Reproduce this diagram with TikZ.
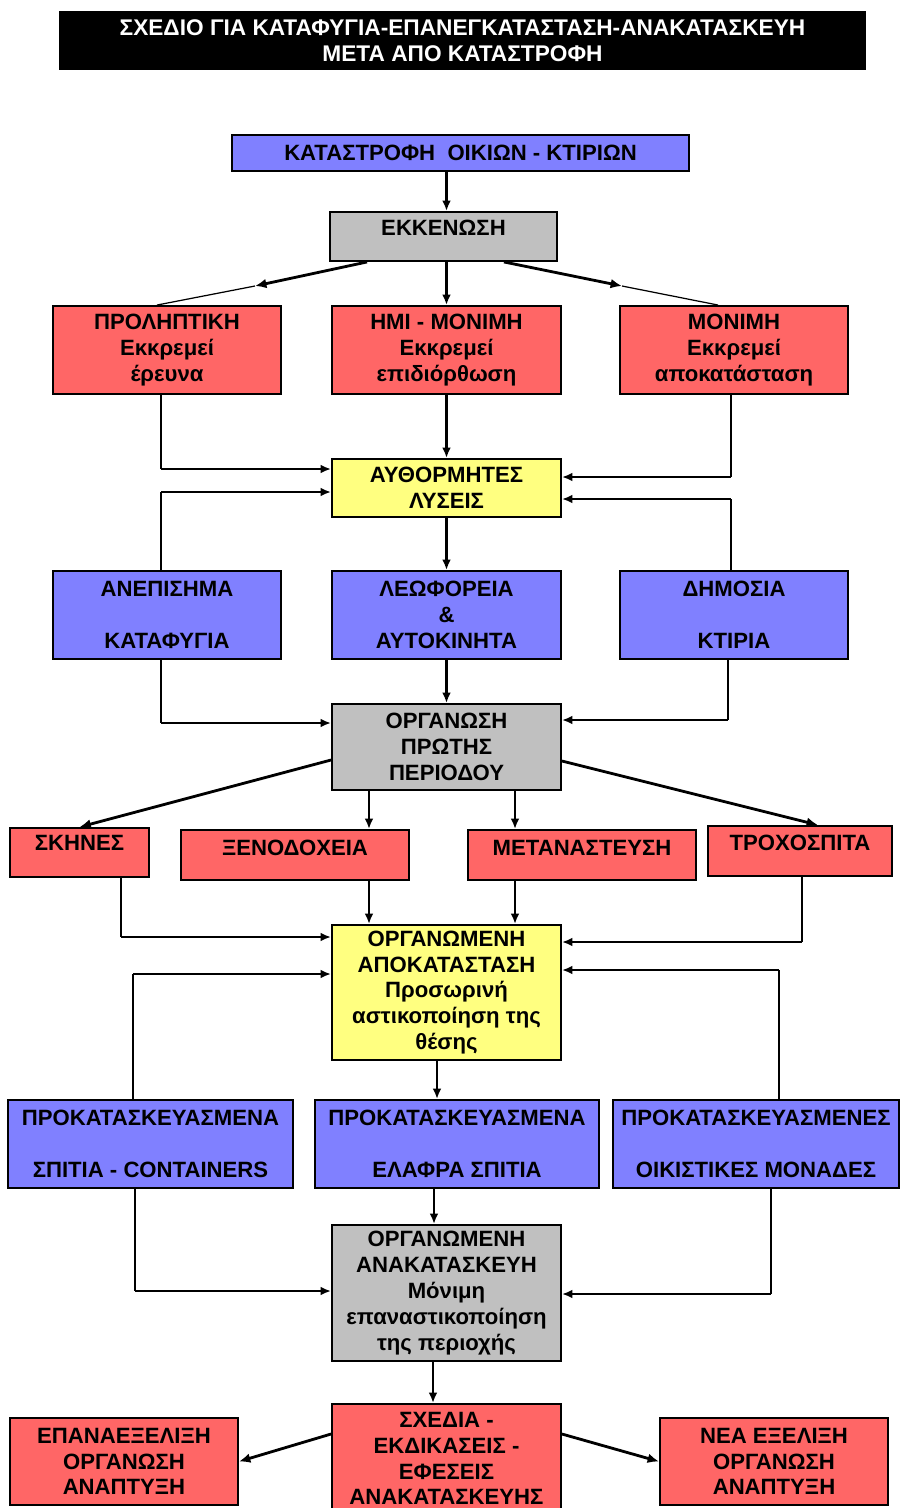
\documentclass[tikz,border=0pt]{standalone}
\usepackage{fontspec}
\setmainfont{Liberation Sans}
\usetikzlibrary{arrows.meta}

\definecolor{boxblue}{RGB}{128,128,255}
\definecolor{boxred}{RGB}{255,102,102}
\definecolor{boxgray}{RGB}{192,192,192}
\definecolor{boxyellow}{RGB}{255,255,128}

\tikzset{
  box/.style={draw, line width=1.1pt, inner sep=0pt, align=center,
    font=\bfseries\fontsize{12.6}{14.7}\selectfont},
  bluebox/.style={box, fill=boxblue},
  redbox/.style={box, fill=boxred},
  graybox/.style={box, fill=boxgray},
  yellowbox/.style={box, fill=boxyellow},
  boxtext/.style={inner sep=0pt, align=center,
    font=\bfseries\fontsize{12.6}{14.7}\selectfont},
  arr/.style={-{Latex[length=6pt,width=5pt]}, line width=1.2pt},
  fatarr/.style={-{Latex[length=6.5pt,width=5.5pt]}, line width=1.6pt},
  leg/.style={line width=0.7pt},
}

\begin{document}
\begin{tikzpicture}[x=0.02cm, y=-0.02cm]
    \useasboundingbox (0,0) rectangle (903,1508);
    \clip (0,0) rectangle (903,1508);

    % Title
    \node (title) [fill=black, text=white, minimum width=16.14cm, minimum height=1.18cm,
      inner sep=0pt, align=center, font=\bfseries\fontsize{12.9}{14.7}\selectfont]
      at (462.5,40.5) {ΣΧΕΔΙΟ ΓΙΑ ΚΑΤΑΦΥΓΙΑ-ΕΠΑΝΕΓΚΑΤΑΣΤΑΣΗ-ΑΝΑΚΑΤΑΣΚΕΥΗ\\ΜΕΤΑ ΑΠΟ ΚΑΤΑΣΤΡΟΦΗ};

    % Disaster and evacuation
    \node (kat) [bluebox, minimum width=9.14cm, minimum height=0.72cm] at (460.5,153)
      {ΚΑΤΑΣΤΡΟΦΗ\ \ ΟΙΚΙΩΝ - ΚΤΙΡΙΩΝ};
    \node (ekk) [graybox, minimum width=4.54cm, minimum height=0.98cm] at (443.5,236.5) {};
    \node (ekk-t) [boxtext] at (443.5,228) {ΕΚΚΕΝΩΣΗ};

    % Kinds of damage
    \node (prol) [redbox, minimum width=4.56cm, minimum height=1.76cm] at (167,350)
      {ΠΡΟΛΗΠΤΙΚΗ\\Εκκρεμεί\\έρευνα};
    \node (hmi) [redbox, minimum width=4.58cm, minimum height=1.76cm] at (446.5,350)
      {ΗΜΙ - ΜΟΝΙΜΗ\\Εκκρεμεί\\επιδιόρθωση};
    \node (mon) [redbox, minimum width=4.56cm, minimum height=1.76cm] at (734,350)
      {ΜΟΝΙΜΗ\\Εκκρεμεί\\αποκατάσταση};

    % Spontaneous solutions
    \node (auth) [yellowbox, minimum width=4.58cm, minimum height=1.16cm] at (446.5,488)
      {ΑΥΘΟΡΜΗΤΕΣ\\ΛΥΣΕΙΣ};
    \node (anep) [bluebox, minimum width=4.56cm, minimum height=1.76cm] at (167,615)
      {ΑΝΕΠΙΣΗΜΑ\\ \\ΚΑΤΑΦΥΓΙΑ};
    \node (leof) [bluebox, minimum width=4.58cm, minimum height=1.76cm] at (446.5,615)
      {ΛΕΩΦΟΡΕΙΑ\\\&\\ΑΥΤΟΚΙΝΗΤΑ};
    \node (dim) [bluebox, minimum width=4.56cm, minimum height=1.76cm] at (734,615)
      {ΔΗΜΟΣΙΑ\\ \\ΚΤΙΡΙΑ};

    % First period
    \node (org1) [graybox, minimum width=4.58cm, minimum height=1.72cm] at (446.5,747)
      {ΟΡΓΑΝΩΣΗ\\ΠΡΩΤΗΣ\\ΠΕΡΙΟΔΟΥ};
    \node (skin) [redbox, minimum width=2.78cm, minimum height=0.98cm] at (79.5,852.5) {};
    \node (skin-t) [boxtext] at (79.5,843) {ΣΚΗΝΕΣ};
    \node (xen) [redbox, minimum width=4.56cm, minimum height=1.0cm] at (295,855) {};
    \node (xen-t) [boxtext] at (295,848) {ΞΕΝΟΔΟΧΕΙΑ};
    \node (meta) [redbox, minimum width=4.56cm, minimum height=1.0cm] at (582,855) {};
    \node (meta-t) [boxtext] at (582,848) {ΜΕΤΑΝΑΣΤΕΥΣΗ};
    \node (troch) [redbox, minimum width=3.68cm, minimum height=1.0cm] at (800,851) {};
    \node (troch-t) [boxtext] at (800,843) {ΤΡΟΧΟΣΠΙΤΑ};

    % Organised resettlement
    \node (org2) [yellowbox, minimum width=4.58cm, minimum height=2.7cm] at (446.5,992.5)
      {ΟΡΓΑΝΩΜΕΝΗ\\ΑΠΟΚΑΤΑΣΤΑΣΗ\\Προσωρινή\\αστικοποίηση της\\θέσης};
    \node (prok1) [bluebox, minimum width=5.7cm, minimum height=1.76cm] at (150.5,1144)
      {ΠΡΟΚΑΤΑΣΚΕΥΑΣΜΕΝΑ\\ \\ΣΠΙΤΙΑ - CONTAINERS};
    \node (prok2) [bluebox, minimum width=5.68cm, minimum height=1.76cm] at (457,1144)
      {ΠΡΟΚΑΤΑΣΚΕΥΑΣΜΕΝΑ\\ \\ΕΛΑΦΡΑ ΣΠΙΤΙΑ};
    \node (prok3) [bluebox, minimum width=5.72cm, minimum height=1.76cm] at (756,1144)
      {ΠΡΟΚΑΤΑΣΚΕΥΑΣΜΕΝΕΣ\\ \\ΟΙΚΙΣΤΙΚΕΣ ΜΟΝΑΔΕΣ};

    % Reconstruction
    \node (org3) [graybox, minimum width=4.58cm, minimum height=2.72cm] at (446.5,1293)
      {ΟΡΓΑΝΩΜΕΝΗ\\ΑΝΑΚΑΤΑΣΚΕΥΗ\\Μόνιμη\\επαναστικοποίηση\\της περιοχής};
    \node (sxed) [redbox, minimum width=4.58cm, minimum height=2.18cm] at (446.5,1458.5)
      {ΣΧΕΔΙΑ -\\ΕΚΔΙΚΑΣΕΙΣ -\\ΕΦΕΣΕΙΣ\\ΑΝΑΚΑΤΑΣΚΕΥΗΣ};
    \node (epan) [redbox, minimum width=4.56cm, minimum height=1.74cm] at (124,1461.5)
      {ΕΠΑΝΑΕΞΕΛΙΞΗ\\ΟΡΓΑΝΩΣΗ\\ΑΝΑΠΤΥΞΗ};
    \node (nea) [redbox, minimum width=4.56cm, minimum height=1.74cm] at (774,1461.5)
      {ΝΕΑ ΕΞΕΛΙΞΗ\\ΟΡΓΑΝΩΣΗ\\ΑΝΑΠΤΥΞΗ};

    % Bends of the connectors
    \coordinate (e1) at (255,286);
    \coordinate (e2) at (622,286);
    \coordinate (a1) at (161,469);
    \coordinate (a2) at (731,477);
    \coordinate (a3) at (161,492);
    \coordinate (a4) at (731,499);
    \coordinate (b1) at (161,723);
    \coordinate (b2) at (728,720);
    \coordinate (d1) at (369,790);
    \coordinate (d2) at (515,790);
    \coordinate (f1) at (121,937);
    \coordinate (f2) at (802,942);
    \coordinate (g1) at (133,974);
    \coordinate (g2) at (779,970);
    \coordinate (h1) at (135,1291);
    \coordinate (h2) at (771,1294);

    % Top part
    \draw [arr] (kat.south -| hmi.north) -- (ekk.north -| hmi.north);
    \draw [fatarr] ([xshift=0.76cm]ekk.south west) -- (e1);
    \draw [leg] (e1) -- ([xshift=-0.2cm]prol.north);
    \draw [arr] (ekk.south -| hmi.north) -- (hmi.north);
    \draw [fatarr] ([xshift=-1.08cm]ekk.south east) -- (e2);
    \draw [leg] (e2) -- ([xshift=-0.32cm]mon.north);

    % Into the spontaneous solutions
    \draw [leg] (a1 |- prol.south) -- (a1);
    \draw [arr] (a1) -- (a1 -| auth.west);
    \draw [arr] (hmi.south) -- (auth.north);
    \draw [leg] (a2 |- mon.south) -- (a2);
    \draw [arr] (a2) -- (a2 -| auth.east);
    \draw [leg] (a3 |- anep.north) -- (a3);
    \draw [arr] (a3) -- (a3 -| auth.west);
    \draw [leg] (a4 |- dim.north) -- (a4);
    \draw [arr] (a4) -- (a4 -| auth.east);
    \draw [arr] (auth.south) -- (leof.north);

    % Into the first period
    \draw [leg] (b1 |- anep.south) -- (b1);
    \draw [arr] (b1) -- (b1 -| org1.west);
    \draw [arr] (leof.south) -- (org1.north);
    \draw [leg] (b2 |- dim.south) -- (b2);
    \draw [arr] (b2) -- (b2 -| org1.east);

    % Out of the first period
    \draw [fatarr] ([yshift=-0.26cm]org1.west) -- (skin.north);
    \draw [arr] (d1) -- (d1 |- xen.north);
    \draw [arr] (d2) -- (d2 |- meta.north);
    \draw [fatarr] ([yshift=-0.28cm]org1.east) -- ([xshift=0.36cm]troch.north);

    % Into the organised resettlement
    \draw [leg] (f1 |- skin.south) -- (f1);
    \draw [arr] (f1) -- (f1 -| org2.west);
    \draw [arr] (d1 |- xen.south) -- (d1 |- org2.north);
    \draw [arr] (d2 |- meta.south) -- (d2 |- org2.north);
    \draw [leg] (f2 |- troch.south) -- (f2);
    \draw [arr] (f2) -- (f2 -| org2.east);
    \draw [leg] (g1 |- prok1.north) -- (g1);
    \draw [arr] (g1) -- (g1 -| org2.west);
    \draw [leg] (g2 |- prok3.north) -- (g2);
    \draw [arr] (g2) -- (g2 -| org2.east);
    \draw [arr] ([xshift=-0.19cm]org2.south) -- ([xshift=-0.19cm]org2.south |- prok2.north);

    % Into the reconstruction
    \draw [leg] (h1 |- prok1.south) -- (h1);
    \draw [arr] (h1) -- (h1 -| org3.west);
    \draw [arr] ([xshift=-0.25cm]org3.north |- prok2.south) -- ([xshift=-0.25cm]org3.north);
    \draw [leg] (h2 |- prok3.south) -- (h2);
    \draw [arr] (h2) -- (h2 -| org3.east);
    \draw [arr] ([xshift=-0.27cm]org3.south) -- ([xshift=-0.27cm]sxed.north);

    % Outcomes
    \draw [fatarr] ([yshift=0.49cm]sxed.west) -- (epan.east);
    \draw [fatarr] ([yshift=0.49cm]sxed.east) -- (nea.west);

\end{tikzpicture}
\end{document}
